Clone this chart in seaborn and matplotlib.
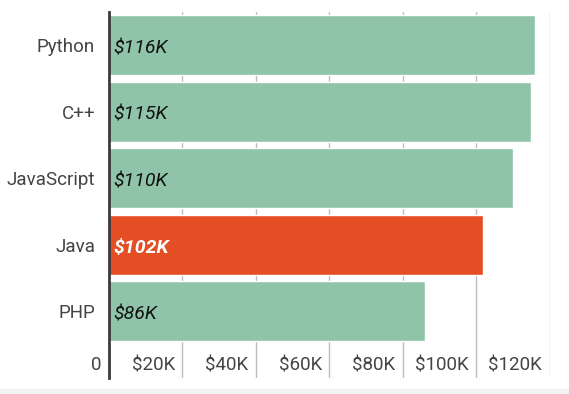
import numpy as np
import pandas as pd
import matplotlib
matplotlib.use('Agg')
import matplotlib.pyplot as plt
import seaborn as sns
from matplotlib.patches import Rectangle

# data
languages = ['Python', 'C++', 'JavaScript', 'Java', 'PHP']
salaries_k = [116, 115, 110, 102, 86]
bar_colors = ['#8fc4a8', '#8fc4a8', '#8fc4a8', '#e34e24', '#8fc4a8']
tick_values = [0, 20, 40, 60, 80, 100, 120]
tick_labels = ['0', '$20K', '$40K', '$60K', '$80K', '$100K', '$120K']

df = pd.DataFrame({'language': languages, 'salary': [s * 1000 for s in salaries_k]})

sns.set_theme(style='white')
plt.rcParams['font.family'] = ['Roboto', 'DejaVu Sans']

fig = plt.figure(figsize=(5.69, 3.94), dpi=100)
ax = fig.add_axes([109 / 569, 1 - 378 / 394, 440.5 / 569, (378 - 11.7) / 394])

sns.barplot(data=df, x='salary', y='language', hue='language', order=languages,
            palette=dict(zip(languages, bar_colors)), saturation=1, width=0.9,
            legend=False, ax=ax, zorder=2)

ax.set_xlim(0, 120000)
ax.set_ylim(5.0, -0.5)
ax.set_xticks([v * 1000 for v in tick_values])
ax.grid(axis='x', color='#bdbdbd', lw=1, zorder=0)
ax.grid(axis='y', visible=False)
ax.set_axisbelow(True)
ax.tick_params(axis='x', length=0, labelbottom=False)
ax.tick_params(axis='y', length=0, pad=10, labelsize=13.5, labelcolor='#444444')
for lab in ax.get_yticklabels():
    lab.set_y(lab.get_position()[1])
    lab.set_va('center_baseline')
ax.set_xlabel('')
ax.set_ylabel('')

for s in ['top', 'right', 'bottom']:
    ax.spines[s].set_visible(False)
ax.spines['left'].set_color('#3a3a3a')
ax.spines['left'].set_linewidth(2)
ax.spines['left'].set_zorder(5)

# value labels inside the bars
for i, (v, c) in enumerate(zip(salaries_k, bar_colors)):
    is_hl = c != '#8fc4a8'
    ax.text(1100, i + 0.02, f'${v}K', ha='left', va='center_baseline', fontsize=14, style='italic',
            fontweight='bold' if is_hl else 'normal',
            color='white' if is_hl else '#111111', zorder=6)

# x tick labels sit inside the plot, left of each gridline
for v, lab in zip(tick_values, tick_labels):
    ax.text(v * 1000 - 2000, 4.78, lab, ha='right', va='center_baseline', fontsize=13.5,
            color='#444444', zorder=6)

fig.patches.append(Rectangle((0, 0), 1, 5 / 394, transform=fig.transFigure,
                             color='#f3f3f3', zorder=0))

fig.savefig('out.png', dpi=100)
